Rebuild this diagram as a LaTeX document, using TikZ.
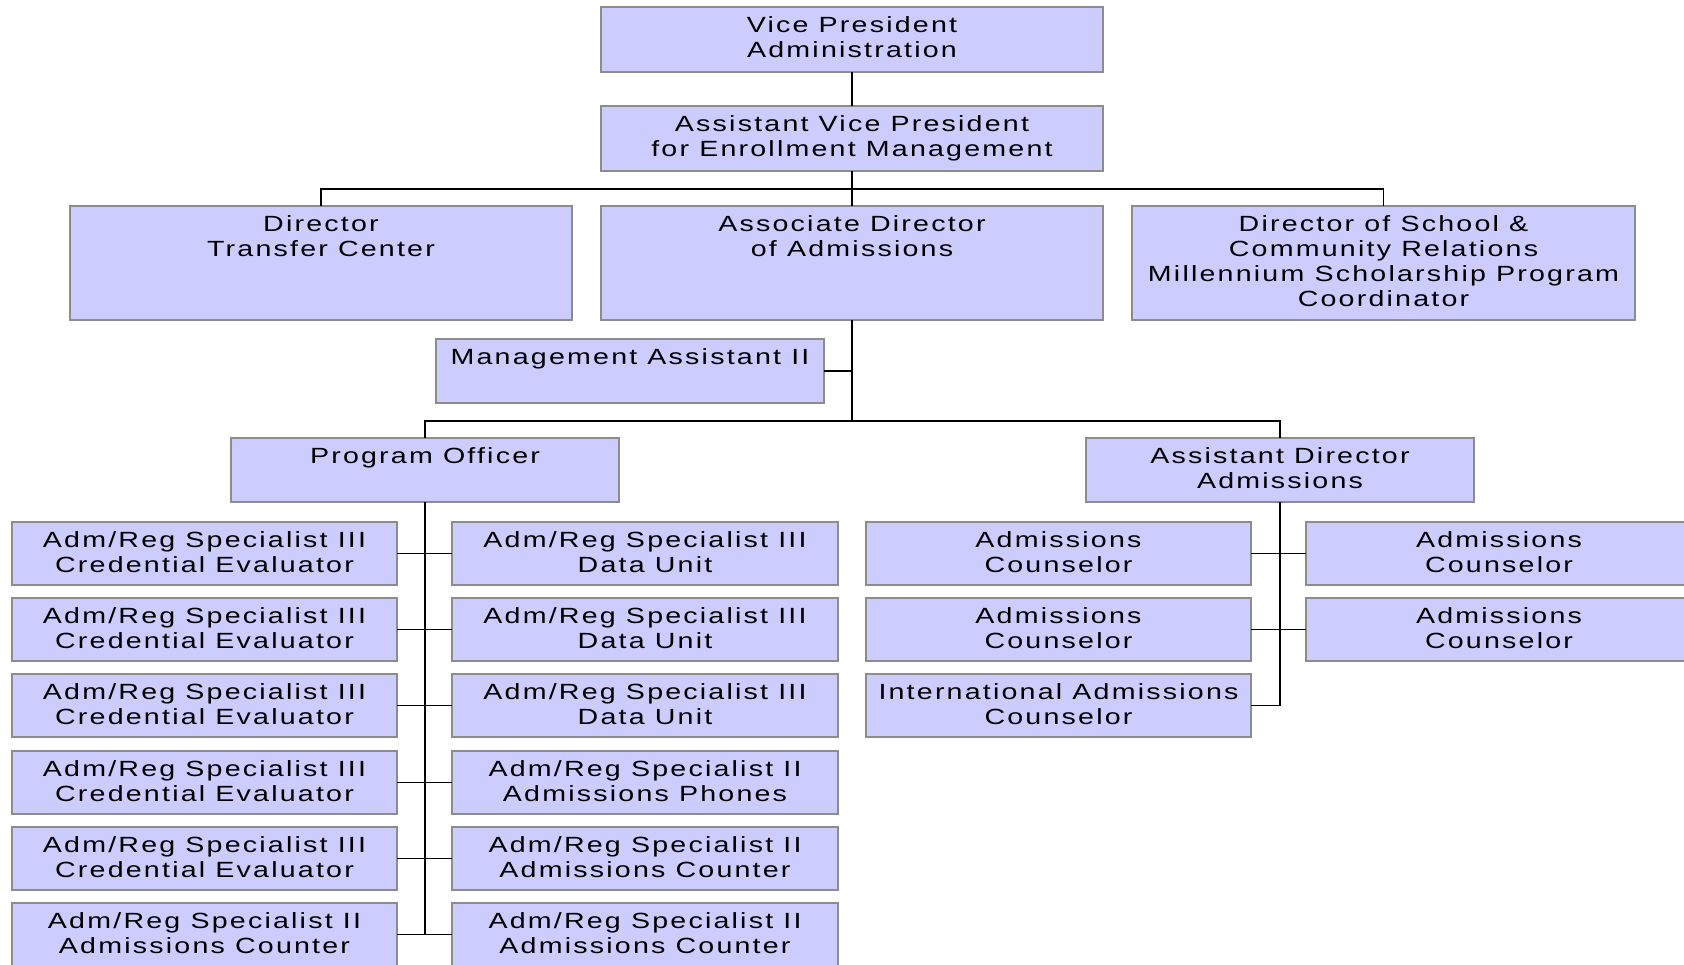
\documentclass[tikz,border=0pt]{standalone}
\usepackage{fontspec}
\setmainfont{Liberation Sans}[FakeStretch=1.3,LetterSpace=10]
\usetikzlibrary{calc}
\definecolor{boxfill}{HTML}{CCCCFF}
\definecolor{boxline}{HTML}{8C8C8C}
\tikzset{
  orgbox/.style={draw=boxline, fill=boxfill, line width=1.8pt, rectangle, inner sep=0pt, outer sep=0pt, font=\fontsize{22}{25}\selectfont},
  link/.style={draw=black, line width=1.8pt},
}
\newcommand{\obox}[6]{%
  \pgfmathsetlengthmacro{\bw}{(#4)-(#2)}%
  \pgfmathsetlengthmacro{\bh}{(#5)-(#3)}%
  \node[orgbox, minimum width=\bw, minimum height=\bh, anchor=north west] (#1) at (#2,#3) {\parbox[c][\bh][t]{\bw}{\centering\rule{0pt}{25pt}#6\par}};%
}
\begin{document}
\begin{tikzpicture}[x=1pt,y=-1pt]
\useasboundingbox (0,0) rectangle (1684,964);
\clip (0,0) rectangle (1684,964);
% top
\obox{vp}{601}{7}{1103}{72}{Vice President\\Administration}
\obox{avp}{601}{106}{1103}{171}{Assistant Vice President\\for Enrollment Management}
\obox{dtc}{70}{206}{572}{320}{Director\\Transfer Center}
\obox{ad}{601}{206}{1103}{320}{Associate Director\\of Admissions}
\obox{dsc}{1132}{206}{1635}{320}{Director of School \&\\Community Relations\\Millennium Scholarship Program\\Coordinator}
\obox{ma}{436}{339}{824}{403}{Management Assistant II}
\obox{po}{231}{438}{619}{502}{Program Officer}
\obox{ada}{1086}{438}{1474}{502}{Assistant Director\\Admissions}
% program officer staff
\obox{pl1}{12}{522}{397}{585}{Adm/Reg Specialist III\\Credential Evaluator}
\obox{pl2}{12}{598}{397}{661}{Adm/Reg Specialist III\\Credential Evaluator}
\obox{pl3}{12}{674}{397}{737}{Adm/Reg Specialist III\\Credential Evaluator}
\obox{pl4}{12}{751}{397}{814}{Adm/Reg Specialist III\\Credential Evaluator}
\obox{pl5}{12}{827}{397}{890}{Adm/Reg Specialist III\\Credential Evaluator}
\obox{pl6}{12}{903}{397}{966}{Adm/Reg Specialist II\\Admissions Counter}
\obox{pr1}{452}{522}{838}{585}{Adm/Reg Specialist III\\Data Unit}
\obox{pr2}{452}{598}{838}{661}{Adm/Reg Specialist III\\Data Unit}
\obox{pr3}{452}{674}{838}{737}{Adm/Reg Specialist III\\Data Unit}
\obox{pr4}{452}{751}{838}{814}{Adm/Reg Specialist II\\Admissions Phones}
\obox{pr5}{452}{827}{838}{890}{Adm/Reg Specialist II\\Admissions Counter}
\obox{pr6}{452}{903}{838}{966}{Adm/Reg Specialist II\\Admissions Counter}
% assistant director staff
\obox{al1}{866}{522}{1251}{585}{Admissions\\Counselor}
\obox{al2}{866}{598}{1251}{661}{Admissions\\Counselor}
\obox{al3}{866}{674}{1251}{737}{International Admissions\\Counselor}
\obox{ar1}{1306}{522}{1692}{585}{Admissions\\Counselor}
\obox{ar2}{1306}{598}{1692}{661}{Admissions\\Counselor}
% connectors
\coordinate (b1) at (852,189);
\coordinate (b2) at (852,421);
\draw[link] (vp.south) -- (avp.north);
\draw[link] (avp.south) -- (ad.north);
\draw[link] (dtc.north) |- (b1) -| (dsc.north);
\draw[link] (ad.south) -- (b2);
\draw[link] (ma.east) -- (ma.east -| ad.south);
\draw[link] (po.north) |- (b2) -| (ada.north);
\draw[link] (po.south) -- (po.south |- pl6.east);
\foreach \i in {1,...,6} \draw[link] (pl\i.east) -- (pr\i.west);
\draw[link] (ada.south) -- (ada.south |- al3.east);
\draw[link] (al1.east) -- (ar1.west);
\draw[link] (al2.east) -- (ar2.west);
\draw[link] (al3.east) -- (al3.east -| ada.south);
\end{tikzpicture}
\end{document}
